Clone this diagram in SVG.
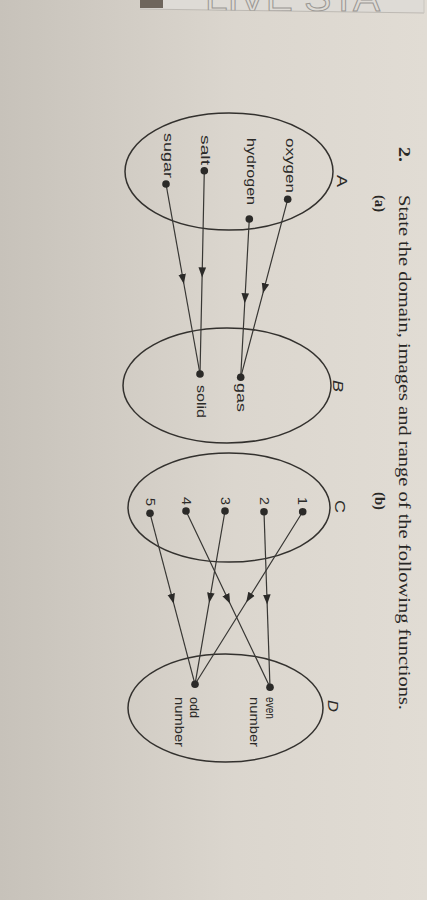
<svg xmlns="http://www.w3.org/2000/svg" width="427" height="900" viewBox="0 0 427 900">
<style>
.set{fill:none;stroke:#33312e;stroke-width:1.5}
.dot{fill:#2b2a28}
.lbl{font-family:"Liberation Sans",Arial,sans-serif;font-size:13.5px;fill:#2b2a28}
.setl{font-family:"Liberation Sans",Arial,sans-serif;font-size:14px;fill:#2b2a28}
.hdr{font-family:"Liberation Serif","Times New Roman",serif;font-size:17px;fill:#282725}
.sub{font-family:"Liberation Serif","Times New Roman",serif;font-size:14px;font-weight:bold;fill:#282725}
.con{fill:none;stroke:#383734;stroke-width:1.2;marker-mid:url(#arr)}
</style>
<defs>
<linearGradient id="paper" x1="0" y1="0" x2="1" y2="0">
<stop offset="0" stop-color="#c7c2ba"/>
<stop offset="0.55" stop-color="#dbd6ce"/>
<stop offset="1" stop-color="#e1dcd4"/>
</linearGradient>
<marker id="arr" viewBox="0 -4.5 11 9" markerWidth="11" markerHeight="9" refX="5" refY="0" orient="auto" markerUnits="userSpaceOnUse">
<path d="M0,-3.8 L10,0 L0,3.8 Z" fill="#2b2a28"/>
</marker>
<clipPath id="stripclip"><polygon points="140,0 424,0 424,13 140,9"/></clipPath>
</defs>
<rect x="0" y="0" width="427" height="900" fill="url(#paper)"/>
<g id="top-strip">
<polygon points="140,0 424,0 424,13 140,9" fill="#dedbd6"/>
<rect x="140" y="0" width="23" height="8" fill="#6e655c"/>
<line x1="140" y1="9" x2="424" y2="13" stroke="#bdb9b3" stroke-width="1"/>
<line x1="424" y1="0" x2="424" y2="13" stroke="#c9c5bf" stroke-width="1"/>
<text x="205" y="11" clip-path="url(#stripclip)" font-family="Liberation Sans,Arial,sans-serif" font-size="40" fill="none" stroke="#9a9793" stroke-width="1" textLength="175" lengthAdjust="spacingAndGlyphs">LIVE STA</text>
</g>
<g id="header">
<text class="hdr" font-weight="bold" transform="translate(398.5,147) rotate(90)" textLength="15" lengthAdjust="spacingAndGlyphs">2.</text>
<text class="hdr" transform="translate(398.5,195) rotate(90)" textLength="515" lengthAdjust="spacingAndGlyphs">State the domain, images and range of the following functions.</text>
<text class="sub" transform="translate(374.5,195) rotate(90)" textLength="17" lengthAdjust="spacingAndGlyphs">(a)</text>
<text class="sub" transform="translate(374.5,492) rotate(90)" textLength="18" lengthAdjust="spacingAndGlyphs">(b)</text>
</g>
<g id="set-A">
<ellipse class="set" cx="229" cy="171.5" rx="104" ry="58.5"/>
<text class="setl" transform="translate(337,175) rotate(90)" textLength="12" lengthAdjust="spacingAndGlyphs">A</text>
</g>
<g id="set-B">
<ellipse class="set" cx="227" cy="385.5" rx="104" ry="57.5"/>
<text class="setl" font-style="italic" transform="translate(333,380) rotate(90)" textLength="12" lengthAdjust="spacingAndGlyphs">B</text>
</g>
<g id="set-C">
<ellipse class="set" cx="229" cy="507.5" rx="101" ry="54.5"/>
<text class="setl" transform="translate(335,500) rotate(90)" textLength="13" lengthAdjust="spacingAndGlyphs">C</text>
</g>
<g id="set-D">
<ellipse class="set" cx="225.5" cy="708" rx="97.5" ry="54"/>
<text class="setl" font-style="italic" transform="translate(328,700) rotate(90)" textLength="12" lengthAdjust="spacingAndGlyphs">D</text>
</g>
<g id="connectors">
<path class="con" d="M287.7,199.3 L264.2,288.3 L240.7,377.3"/>
<path class="con" d="M249.3,219 L245,298.2 L240.7,377.3"/>
<path class="con" d="M204.3,170.7 L202.2,272.4 L200,374"/>
<path class="con" d="M166,184 L183,279 L200,374"/>
<path class="con" d="M302.7,511.7 L248.9,598 L195,684.3"/>
<path class="con" d="M264,511.7 L267,599.5 L270,687.3"/>
<path class="con" d="M225,511 L210,597.7 L195,684.3"/>
<path class="con" d="M186,511 L228,599.2 L270,687.3"/>
<path class="con" d="M150,513.3 L172.5,598.8 L195,684.3"/>
</g>
<g id="node-oxygen">
<circle class="dot" cx="287.7" cy="199.3" r="3.8"/>
<text class="lbl" transform="translate(285.5,138) rotate(90)" textLength="55" lengthAdjust="spacingAndGlyphs">oxygen</text>
</g>
<g id="node-hydrogen">
<circle class="dot" cx="249.3" cy="219" r="3.8"/>
<text class="lbl" transform="translate(247,138) rotate(90)" textLength="67" lengthAdjust="spacingAndGlyphs">hydrogen</text>
</g>
<g id="node-salt">
<circle class="dot" cx="204.3" cy="170.7" r="3.8"/>
<text class="lbl" transform="translate(200.5,135) rotate(90)" textLength="30" lengthAdjust="spacingAndGlyphs">salt</text>
</g>
<g id="node-sugar">
<circle class="dot" cx="166" cy="184" r="3.8"/>
<text class="lbl" transform="translate(164,133) rotate(90)" textLength="45" lengthAdjust="spacingAndGlyphs">sugar</text>
</g>
<g id="node-gas">
<circle class="dot" cx="240.7" cy="377.3" r="3.8"/>
<text class="lbl" transform="translate(237,383) rotate(90)" textLength="29" lengthAdjust="spacingAndGlyphs">gas</text>
</g>
<g id="node-solid">
<circle class="dot" cx="200" cy="374" r="3.8"/>
<text class="lbl" transform="translate(196.5,385) rotate(90)" textLength="33" lengthAdjust="spacingAndGlyphs">solid</text>
</g>
<g id="node-1">
<circle class="dot" cx="302.7" cy="511.7" r="3.8"/>
<text class="lbl" transform="translate(298,497) rotate(90)" textLength="8" lengthAdjust="spacingAndGlyphs">1</text>
</g>
<g id="node-2">
<circle class="dot" cx="264" cy="511.7" r="3.8"/>
<text class="lbl" transform="translate(259.5,497) rotate(90)" textLength="8" lengthAdjust="spacingAndGlyphs">2</text>
</g>
<g id="node-3">
<circle class="dot" cx="225" cy="511" r="3.8"/>
<text class="lbl" transform="translate(220.5,497) rotate(90)" textLength="8" lengthAdjust="spacingAndGlyphs">3</text>
</g>
<g id="node-4">
<circle class="dot" cx="186" cy="511" r="3.8"/>
<text class="lbl" transform="translate(181.5,497) rotate(90)" textLength="8" lengthAdjust="spacingAndGlyphs">4</text>
</g>
<g id="node-5">
<circle class="dot" cx="150" cy="513.3" r="3.8"/>
<text class="lbl" transform="translate(145.5,498) rotate(90)" textLength="8" lengthAdjust="spacingAndGlyphs">5</text>
</g>
<g id="node-even">
<circle class="dot" cx="270" cy="687.3" r="3.8"/>
<text class="lbl" transform="translate(266,697) rotate(90)" textLength="22" lengthAdjust="spacingAndGlyphs">even</text>
<text class="lbl" transform="translate(249.5,697) rotate(90)" textLength="50" lengthAdjust="spacingAndGlyphs">number</text>
</g>
<g id="node-odd">
<circle class="dot" cx="195" cy="684.3" r="3.8"/>
<text class="lbl" transform="translate(190,697) rotate(90)" textLength="21" lengthAdjust="spacingAndGlyphs">odd</text>
<text class="lbl" transform="translate(175,697) rotate(90)" textLength="50" lengthAdjust="spacingAndGlyphs">number</text>
</g>
</svg>
